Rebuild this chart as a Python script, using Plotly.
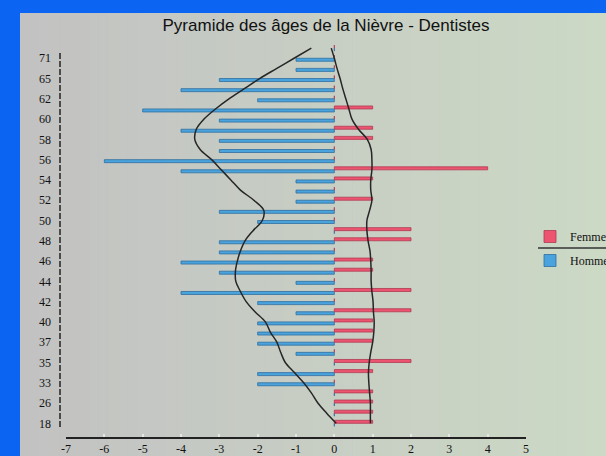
import plotly.graph_objects as go

# ---- data ----
ages = ["18", "24", "26", "30", "33", "34", "35", "36", "37", "39", "40", "41", "42", "43",
        "44", "45", "46", "47", "48", "49", "50", "51", "52", "53", "54", "55", "56", "57",
        "58", "59", "60", "61", "62", "63", "65", "68", "71", "72"]
femmes = [1, 1, 1, 1, 0, 1, 2, 0, 1, 1, 1, 2, 0, 2, 0, 1, 1, 0, 2, 2, 0, 0, 1, 0, 1, 4,
          0, 0, 1, 1, 0, 1, 0, 0, 0, 0, 0, 0]
hommes = [0, 0, 0, 0, 2, 2, 0, 1, 2, 2, 2, 1, 2, 4, 1, 3, 4, 3, 3, 0, 2, 3, 1, 1, 1, 4,
          6, 3, 3, 4, 3, 5, 2, 4, 3, 1, 1, 0]
courbe_hommes = [0.05, -0.2, -0.43, -0.6, -0.8, -1.04, -1.28, -1.4, -1.5, -1.67, -1.8, -2.07,
                 -2.3, -2.45, -2.57, -2.58, -2.53, -2.45, -2.33, -2.12, -1.88, -1.84, -2.1,
                 -2.45, -2.7, -2.95, -3.2, -3.5, -3.64, -3.6, -3.4, -3.1, -2.75, -2.35,
                 -1.95, -1.5, -1.05, -0.6]
courbe_femmes = [0.94, 0.94, 0.94, 0.92, 0.9, 0.89, 0.91, 0.95, 1.0, 1.03, 1.04, 1.02, 1.01,
                 0.98, 0.96, 0.96, 0.95, 0.93, 0.88, 0.85, 0.85, 0.92, 0.98, 0.95, 0.95, 0.98,
                 0.98, 0.96, 0.86, 0.63, 0.46, 0.38, 0.3, 0.22, 0.15, 0.07, 0.0, -0.08]
x_ticks = [-7, -6, -5, -4, -3, -2, -1, 0, 1, 2, 3, 4, 5]
x_ticktext = ["-7", "-6", "-5", "-4", "-3", "-2", "-1", "0", "1", "2", "3", "4", "5"]
age_labels = ages[:-1:2]

W, H = 606, 456
L, R, T, B = 66, 526, 40, 437  # plot area in pixels


def px_x(px):
    return (px - L) / (R - L)


def px_y(py):
    return (B - py) / (B - T)


fig = go.Figure()

fig.add_trace(go.Bar(
    name="Homme", orientation="h", y=ages, x=[-v for v in hommes], legendgroup="h", legendrank=2,
    marker=dict(color="#4aa3dc", line=dict(color="#2f6f9e", width=0.8)),
))
fig.add_trace(go.Bar(
    name="Femme", orientation="h", y=ages, x=femmes, legendgroup="f", legendrank=1,
    marker=dict(color="#ec5470", line=dict(color="#b03a52", width=0.8)),
))
fig.add_trace(go.Scatter(
    y=ages, x=courbe_hommes, mode="lines", line=dict(color="#262626", width=1.5, shape="spline"),
    showlegend=False, hoverinfo="skip",
))
fig.add_trace(go.Scatter(
    y=ages, x=courbe_femmes, mode="lines", line=dict(color="#262626", width=1.5, shape="spline"),
    showlegend=False, hoverinfo="skip",
))

# background: blue frame + horizontal grey->green gradient panel
shapes = []
n = 60
x0p, x1p = 20, W
c0 = (194, 194, 194)
c1 = (204, 217, 197)
for k in range(n):
    a = x0p + (x1p - x0p) * k / n
    b = x0p + (x1p - x0p) * (k + 1) / n + 0.8
    t = k / (n - 1)
    col = "rgb(%d,%d,%d)" % tuple(round(c0[j] + (c1[j] - c0[j]) * t) for j in range(3))
    shapes.append(dict(type="rect", xref="paper", yref="paper", layer="below",
                       x0=px_x(a), x1=px_x(b), y0=px_y(H + 2), y1=px_y(13),
                       fillcolor=col, line=dict(width=0)))
# dashed vertical axis line
shapes.append(dict(type="line", xref="paper", yref="paper", x0=px_x(60), x1=px_x(60),
                   y0=px_y(53), y1=px_y(428), line=dict(color="#222", width=1.5, dash="6px,2px")))
# legend separator
shapes.append(dict(type="line", xref="paper", yref="paper", x0=px_x(538), x1=px_x(610),
                   y0=px_y(248), y1=px_y(248), line=dict(color="#333", width=1.5)))

fig.update_layout(
    template="none",
    width=W, height=H,
    margin=dict(l=L, r=W - R, t=T, b=H - B, pad=0),
    paper_bgcolor="#0b65f2",
    plot_bgcolor="rgba(0,0,0,0)",
    barmode="group", bargap=0.41, bargroupgap=0,
    shapes=shapes,
    title=dict(text="Pyramide des âges de la Nièvre - Dentistes", xref="container", yref="container",
               x=326 / W, y=1 - 25.5 / H, xanchor="center", yanchor="middle",
               font=dict(family="Liberation Sans", size=17, color="#111")),
    legend=dict(xref="container", yref="container", x=530 / W, y=1 - 222 / H,
                xanchor="left", yanchor="top", traceorder="grouped",
                bgcolor="rgba(0,0,0,0)", font=dict(family="Liberation Serif", size=12, color="#111"),
                tracegroupgap=5),
    xaxis=dict(range=[-7, 5], tickmode="array", tickvals=x_ticks, ticktext=x_ticktext,
               showgrid=False, zeroline=False, showline=True, linecolor="#222", linewidth=1.5,
               ticks="inside", ticklen=3, tickcolor="#e6e6e6", tickwidth=1.5,
               tickfont=dict(family="Liberation Serif", size=12, color="#111"), fixedrange=True),
    yaxis=dict(type="category", range=[-1.35, 37.8], tickmode="array", tickvals=age_labels,
               showgrid=False, zeroline=False, showline=False, ticks="",
               ticklabelstandoff=14,
               tickfont=dict(family="Liberation Serif", size=12, color="#111"), fixedrange=True),
)

fig.write_html("out.html", config={"displayModeBar": False})

# remove the default page margin so the figure sits at the window's top-left corner
with open("out.html", "r", encoding="utf-8") as f:
    html = f.read()
html = html.replace("<head>", "<head><style>html,body{margin:0;padding:0;overflow:hidden;}</style>", 1)
with open("out.html", "w", encoding="utf-8") as f:
    f.write(html)
